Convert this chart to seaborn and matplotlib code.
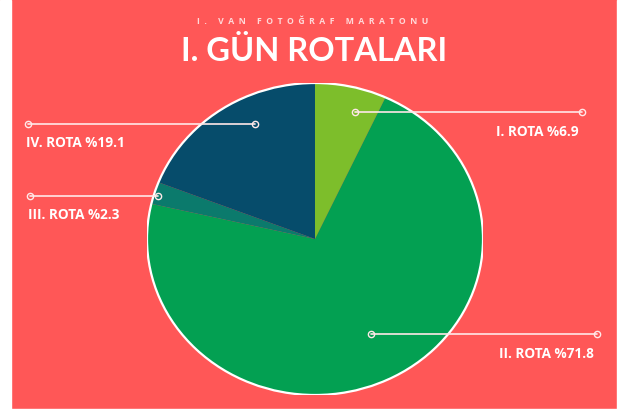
import seaborn as sns
import matplotlib.pyplot as plt
from matplotlib.patches import Circle, Rectangle

# data
routes = ["I. ROTA", "II. ROTA", "III. ROTA", "IV. ROTA"]
shares = [6.9, 71.8, 2.3, 19.1]
slice_colors = ["#7DBE2B", "#03A052", "#0B7A6C", "#064C6B"]

subtitle = "I. VAN FOTOĞRAF MARATONU"
title = "I. GÜN ROTALARI"

# label lines in pixel coords: (x_start, x_end, y, text side)
label_layout = {
    "I. ROTA": (355, 582, 112, "right"),
    "II. ROTA": (371, 597, 334, "right"),
    "III. ROTA": (30, 158, 196, "left"),
    "IV. ROTA": (28, 255, 124, "left"),
}

bg = "#FF5757"
W, H = 618, 411

sns.set_style("white")
plt.rcParams["font.family"] = ["Open Sans", "DejaVu Sans"]

fig = plt.figure(figsize=(W / 100, H / 100), dpi=100, facecolor=bg)

# white strips on the borders of the original image
fig.patches.append(Rectangle((0, 0), 11 / W, 1, transform=fig.transFigure, color="white", zorder=0))
fig.patches.append(Rectangle((0, 0), 1, 2 / H, transform=fig.transFigure, color="white", zorder=0))
fig.patches.append(Rectangle((1 - 1 / W, 0), 1 / W, 1, transform=fig.transFigure, color="white", zorder=0))

# pie axes (slightly squashed like the picture)
cx0, cy0, cx1, cy1 = 147, 83, 483, 395
ax_pie = fig.add_axes([cx0 / W, 1 - cy1 / H, (cx1 - cx0) / W, (cy1 - cy0) / H])
ax_pie.pie(shares, colors=slice_colors, startangle=90, counterclock=False,
           wedgeprops=dict(linewidth=0))
ax_pie.add_patch(Circle((0, 0), 1, fill=False, edgecolor="white", linewidth=1.6))
ax_pie.set_aspect("auto")
ax_pie.set_xlim(-1, 1)
ax_pie.set_ylim(-1, 1)
ax_pie.axis("off")

# overlay in pixel coordinates for the title and labels
ax = fig.add_axes([0, 0, 1, 1])
ax.set_xlim(0, W)
ax.set_ylim(H, 0)
ax.axis("off")
ax.patch.set_alpha(0)

ax.text(313, 22, "  ".join(subtitle), ha="center", va="center", fontsize=6.2,
        color="#FFD9D9", fontweight="bold")
ax.text(314, 51, title, ha="center", va="center", fontsize=23.5, color="white",
        fontweight="bold", family=["Lato", "DejaVu Sans"])

for name, val in zip(routes, shares):
    x0, x1, y, side = label_layout[name]
    ax.plot([x0, x1], [y, y], color="#FFE8E8", lw=1.2, zorder=3)
    ax.plot([x0, x1], [y, y], ls="none", marker="o", ms=4.5, mfc="none",
            mec="#FFE8E8", mew=1.0, zorder=4)
    txt = f"{name} %{val}"
    if side == "right":
        ax.text(x1 - 3, y + 20, txt, ha="right", va="center", fontsize=9.8,
                color="white", fontweight="bold")
    else:
        ax.text(x0 - 2, y + 19, txt, ha="left", va="center", fontsize=9.8,
                color="white", fontweight="bold")

fig.savefig("out.png", dpi=100, facecolor=bg)
